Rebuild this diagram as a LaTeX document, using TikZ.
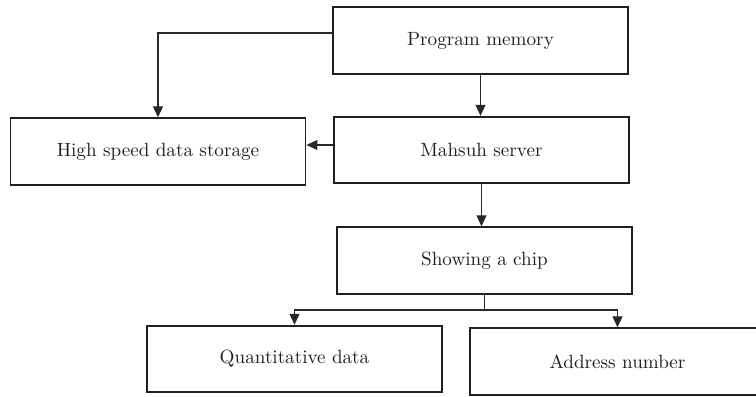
\documentclass[tikz,border=0pt]{standalone}
\usepackage{tikz}
\usetikzlibrary{arrows.meta,positioning}
\definecolor{flowink}{RGB}{35,31,32}
\definecolor{flowline}{RGB}{40,40,40}
\tikzset{
  flowbox/.style={draw=flowink, line width=1.1pt, fill=white,
    minimum width=5.9cm, minimum height=1.33cm, inner sep=0pt,
    align=center, text=flowink, font=\fontsize{10.9}{13}\selectfont},
  flowedge/.style={draw=flowline, line width=0.6pt},
  flowarrow/.style={flowedge, -{Triangle[length=2.2mm,width=2mm]}},
}
\begin{document}
\begin{tikzpicture}[x=0.02cm, y=-0.02cm]
  \useasboundingbox (0,0) rectangle (756,396);
  \node[flowbox] (progmem) at (480.5,40.5) {Program memory};
  \node[flowbox] (storage) at (158,151.5) {High speed data storage};
  \node[flowbox] (mahsuh) at (481.5,150) {Mahsuh server};
  \node[flowbox] (chip) at (484.5,260.5) {Showing a chip};
  \node[flowbox] (quant) at (294.5,359) {Quantitative data};
  \node[flowbox] (addr) at (617.5,361.5) {Address number};
  \coordinate (fork) at (484.5,310);
  \draw[flowarrow] (progmem.south) -- (progmem.south |- mahsuh.north);
  \draw[flowarrow] ([yshift=0.15cm]progmem.west) -| (storage.north);
  \draw[flowarrow] ([yshift=0.1cm]mahsuh.west) -- ([yshift=0.1cm]mahsuh.west -| storage.east);
  \draw[flowarrow] (mahsuh.south) -- (mahsuh.south |- chip.north);
  \draw[flowedge] (chip.south) -- (fork);
  \draw[flowarrow] (fork) -| (quant.north);
  \draw[flowarrow] (fork) -| (addr.north);
\end{tikzpicture}
\end{document}
